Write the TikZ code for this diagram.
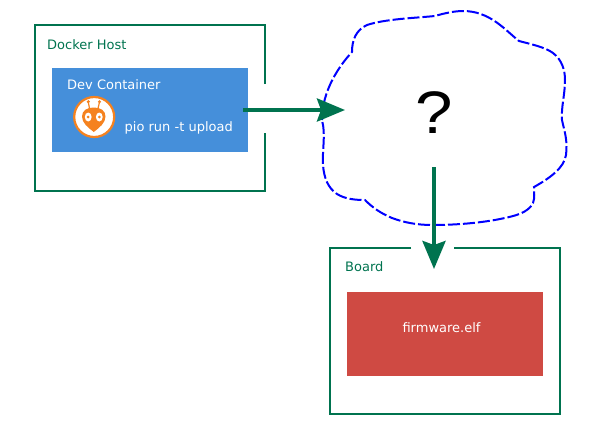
\documentclass[tikz,border=0pt]{standalone}
\usepackage{fontspec}
\setmainfont{DejaVu Sans}
\newfontfamily\qfont{Liberation Sans}
\usetikzlibrary{arrows.meta}
\definecolor{boxgreen}{HTML}{00734F}
\definecolor{devblue}{HTML}{458FDA}
\definecolor{fwred}{HTML}{CF4A43}
\definecolor{pioorange}{HTML}{F5821F}
\tikzset{
  frame/.style={draw=boxgreen,line width=2pt},
  boxlabel/.style={anchor=base west,inner sep=0pt,font=\fontsize{13}{15}\selectfont},
  flow/.style={draw=boxgreen,line width=4pt,-{Stealth[length=28pt,width=23pt,inset=4pt]}},
  cloudline/.style={draw=blue,line width=2pt,dash pattern=on 12pt off 3pt},
}
\begin{document}
\begin{tikzpicture}[x=1pt,y=-1pt]
\useasboundingbox (0,0) rectangle (600,432);
% Docker host frame with gap on right side
\draw[frame] (265,84) -- (265,25) -- (35,25) -- (35,191) -- (265,191) -- (265,133);
\node[boxlabel,text=boxgreen] (hostlabel) at (47,49) {Docker Host};
\node[fill=devblue,inner sep=0pt,minimum width=196pt,minimum height=84pt] (dev) at (150,110) {};
\node[boxlabel,text=white] (devlabel) at (67,89) {Dev Container};
\node[boxlabel,text=white] (cmd) at (124.5,131) {pio run -t upload};
% PlatformIO logo
\node[circle,draw=pioorange,fill=white,line width=2.2pt,minimum size=40pt,inner sep=0pt] (logo) at (94.2,117) {};
\fill[pioorange] (93.8,132) .. controls (88,127.5) and (82,123) .. (82,116.5)
  .. controls (82,110.5) and (87,107.5) .. (93.8,107.5)
  .. controls (100.5,107.5) and (105.5,110.5) .. (105.5,116.5)
  .. controls (105.5,123) and (99.5,127.5) .. (93.8,132) -- cycle;
\draw[pioorange,line width=1.2pt] (89.5,108.5) -- (88.3,102) (98,108.5) -- (99.5,102);
\fill[pioorange] (88.3,101.7) circle (1.7pt) (99.5,101.7) circle (1.7pt);
\fill[white] (88.2,117) ellipse (3.4pt and 4.5pt) (99.3,117) ellipse (3.4pt and 4.5pt);
\fill[pioorange] (88.2,117) circle (1.5pt) (99.3,117) circle (1.5pt);
% Cloud
\draw[cloudline] (322,120) .. controls (322,90) and (340,65) .. (352,52)
  .. controls (352,40) and (356,30) .. (367,25)
  .. controls (385,19) and (415,18) .. (435,16)
  .. controls (445,13) and (455,11) .. (463,11)
  .. controls (490,11) and (505,30) .. (519,41)
  .. controls (530,44) and (545,47) .. (553,53)
  .. controls (562,60) and (565,70) .. (565,80)
  .. controls (565,95) and (561,107) .. (562,120)
  .. controls (564,130) and (568,140) .. (566,155)
  .. controls (564,168) and (550,178) .. (534,187)
  .. controls (534,192) and (535,198) .. (533,203)
  .. controls (528,213) and (515,216) .. (500,219)
  .. controls (480,223) and (455,225) .. (433,225)
  .. controls (415,225) and (403,222) .. (392,218)
  .. controls (380,213) and (372,207) .. (365,200)
  .. controls (355,200) and (345,199) .. (337,194)
  .. controls (328,188) and (324,178) .. (323,165)
  .. controls (322,150) and (326,135) .. (322,120) -- cycle;
\node[font=\qfont\fontsize{60}{62}\selectfont,inner sep=0pt,anchor=base,xscale=1.12] (q) at (434,133) {?};
% Board
\draw[frame] (411,248) -- (330,248) -- (330,414) -- (560,414) -- (560,248) -- (454,248);
\node[boxlabel,text=boxgreen] (boardlabel) at (345,271) {Board};
\node[fill=fwred,inner sep=0pt,minimum width=196pt,minimum height=84pt] (fw) at (445,334) {};
\node[boxlabel,anchor=base,text=white] (fwlabel) at (441.5,332) {firmware.elf};
% Connectors
\coordinate (a1) at (243,110);
\coordinate (a2) at (345,110);
\coordinate (b1) at (434,167);
\coordinate (b2) at (434,269);
\draw[flow] (a1) -- (a2);
\draw[flow] (b1) -- (b2);
\end{tikzpicture}
\end{document}
